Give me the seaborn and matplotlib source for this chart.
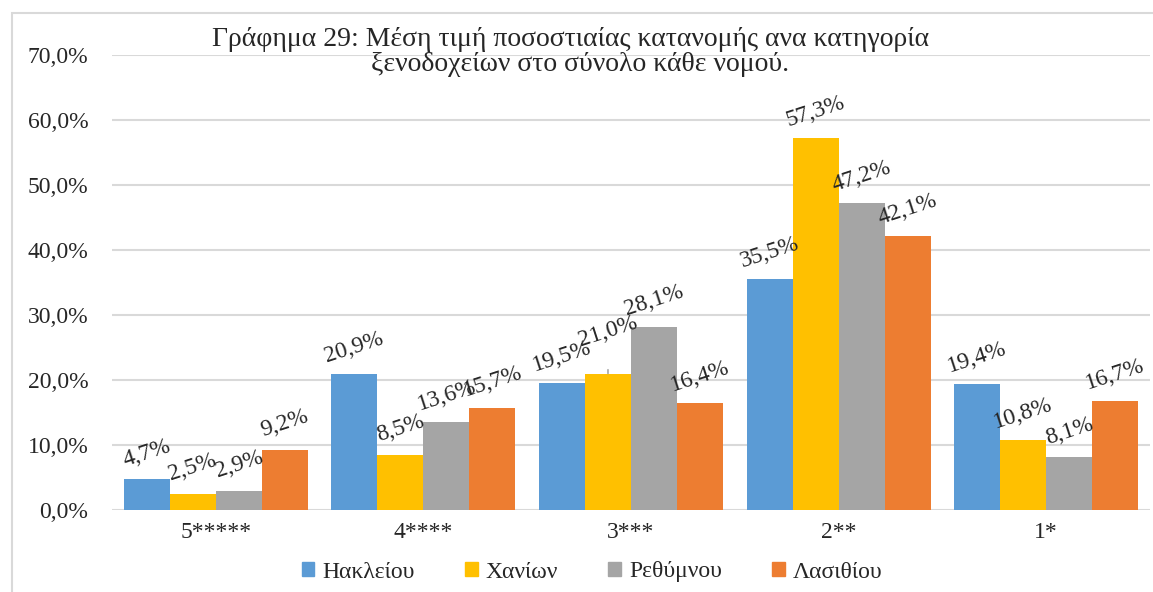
import pandas as pd
import seaborn as sns
import matplotlib.pyplot as plt
from matplotlib.patches import Rectangle
from matplotlib.ticker import FuncFormatter

sns.set_style("white")
plt.rcParams['font.family'] = ['Liberation Serif', 'DejaVu Serif']

categories = ["5*****", "4****", "3***", "2**", "1*"]
prefectures = ["Ηακλείου", "Χανίων", "Ρεθύμνου", "Λασιθίου"]
heraklion = [4.7, 20.9, 19.5, 35.5, 19.4]
chania = [2.5, 8.5, 21.0, 57.3, 10.8]
rethymno = [2.9, 13.6, 28.1, 47.2, 8.1]
lasithi = [9.2, 15.7, 16.4, 42.1, 16.7]
colors = ["#5B9BD5", "#FFC000", "#A5A5A5", "#ED7D31"]

rows = []
for name, vals in zip(prefectures, [heraklion, chania, rethymno, lasithi]):
    for c, v in zip(categories, vals):
        rows.append({"cat": c, "pref": name, "val": v})
df = pd.DataFrame(rows)

fig = plt.figure(figsize=(11.53, 5.92), dpi=100)
ax = fig.add_axes([112 / 1153, 1 - 510 / 592, 1038 / 1153, 455 / 592])

sns.barplot(data=df, x="cat", y="val", hue="pref", order=categories,
            hue_order=prefectures, palette=colors, saturation=1,
            width=0.887, errorbar=None, linewidth=0, ax=ax)

ax.set_ylim(0, 70)
ax.set_yticks(range(0, 71, 10))
ax.yaxis.set_major_formatter(FuncFormatter(lambda v, p: f"{v:.1f}%".replace(".", ",")))
ax.yaxis.grid(True, color="#D9D9D9", lw=1.5)
ax.set_axisbelow(True)
for s in ax.spines.values():
    s.set_visible(False)
ax.tick_params(axis="y", length=0, pad=17, labelsize=17, labelcolor="#262626")
ax.tick_params(axis="x", length=0, pad=9, labelsize=17, labelcolor="#262626")
ax.set_xlabel("")
ax.set_ylabel("")

# data labels, slanted like the original
for cont in ax.containers:
    for bar in cont:
        h = bar.get_height()
        x = bar.get_x() + bar.get_width() / 2
        txt = f"{h:.1f}%".replace(".", ",")
        if txt == "21,0%":
            ax.annotate(txt, xy=(x, h), xytext=(0, 30), textcoords="offset points",
                        ha="center", va="center", rotation=18, rotation_mode="anchor",
                        fontsize=17, color="#262626",
                        arrowprops=dict(arrowstyle="-", color="#A6A6A6", lw=1.2,
                                        shrinkA=11, shrinkB=0))
        else:
            ax.annotate(txt, xy=(x, h), xytext=(0, 19), textcoords="offset points",
                        ha="center", va="center", rotation=18, rotation_mode="anchor",
                        fontsize=17, color="#262626")

ax.get_legend().remove()
handles = [Rectangle((0, 0), 1, 1, color=c) for c in colors]
fig.legend(handles, prefectures, loc="center", bbox_to_anchor=(592 / 1153, 1 - 572 / 592),
           ncol=4, frameon=False, fontsize=17, handlelength=0.55, handleheight=0.55,
           handletextpad=0.35, columnspacing=2.1)

fig.text(571 / 1153, 1 - 46 / 592,
         "Γράφημα 29: Μέση τιμή ποσοστιαίας κατανομής ανα κατηγορία",
         ha="center", va="baseline", fontsize=20, color="#262626")
fig.text(580 / 1153, 1 - 71 / 592, "ξενοδοχείων στο σύνολο κάθε νομού.",
         ha="center", va="baseline", fontsize=20, color="#262626")

fig.patches.append(Rectangle((12 / 1153, -0.1), 1.2, 1.1 - 13 / 592,
                             transform=fig.transFigure, fill=False,
                             edgecolor="#D9D9D9", lw=1.5))

fig.savefig("out.png", dpi=100)
